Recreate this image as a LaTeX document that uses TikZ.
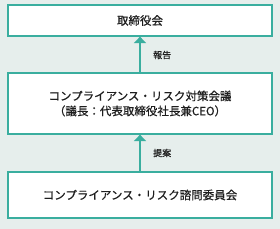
\documentclass[tikz,border=0pt]{standalone}
\usepackage{fontspec}
\setmainfont{Noto Sans CJK JP}[FakeBold=0.6]
\usetikzlibrary{arrows.meta}
\definecolor{bgc}{HTML}{E6EEEC}
\definecolor{tealc}{HTML}{3AAE9F}
\definecolor{txt}{HTML}{1E1E1E}
\tikzset{
  box/.style={draw=tealc, line width=1.3pt, fill=white, inner sep=0pt, text=txt, align=center},
  conn/.style={draw=tealc, line width=1.4pt, -{Triangle[width=12pt,length=6.5pt]}},
  lbl/.style={font=\fontsize{9}{10}\selectfont, text=txt, inner sep=0pt}
}
\begin{document}
\begin{tikzpicture}[x=1pt,y=-1pt]
\fill[bgc] (0,0) rectangle (280,229);
\useasboundingbox (0,0) rectangle (280,229);
\node[box, minimum width=264pt, minimum height=31pt, font=\fontsize{11.5}{13}\selectfont] (b1) at (140,20.5) {取締役会};
\node[box, minimum width=264pt, minimum height=61pt, font=\fontsize{11.5}{15}\selectfont] (b2) at (140,103.5) {コンプライアンス・リスク対策会議\\（議長：代表取締役社長兼CEO）};
\node[box, minimum width=264pt, minimum height=46pt, font=\fontsize{11.5}{13}\selectfont] (b3) at (140,195) {コンプライアンス・リスク諮問委員会};
\draw[conn] (b2.north) -- (b1.south);
\draw[conn] (b3.north) -- (b2.south);
\node[lbl, anchor=west] (l1) at (153,55) {報告};
\node[lbl, anchor=west] (l2) at (153,153) {提案};
\end{tikzpicture}
\end{document}
